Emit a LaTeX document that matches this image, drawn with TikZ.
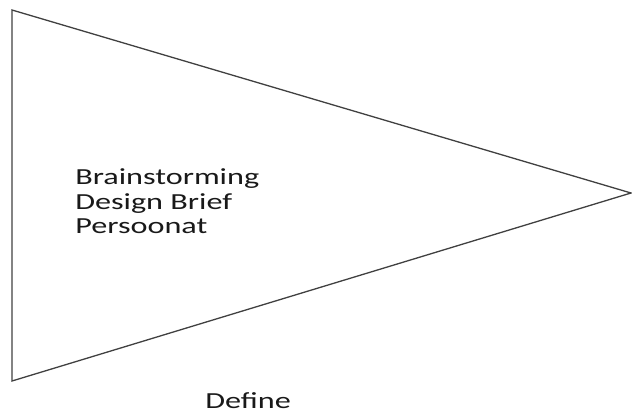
\documentclass[tikz,border=0pt]{standalone}
\usepackage{fontspec}
\setmainfont{Carlito}
\begin{document}
\begin{tikzpicture}[x=1pt,y=1pt,
  lbl/.style={anchor=base west,inner sep=0pt,font=\fontsize{23}{25}\selectfont,text=black!90,xscale=1.4,transform shape},
  tri/.style={draw=black!75,line width=1.3pt,line join=miter}]
\useasboundingbox (0,0) rectangle (632,413);
\coordinate (tl) at (12,403);
\coordinate (tip) at (631,220);
\coordinate (bl) at (12,32);
\draw[tri] (tl) -- (tip) -- (bl) -- cycle;
\node[lbl] (l1) at (75,229) {Brainstorming};
\node[lbl] (l2) at (75,204) {Design Brief};
\node[lbl] (l3) at (75,179) {Persoonat};
\node[lbl] (def) at (205,5) {Define};
\end{tikzpicture}
\end{document}
